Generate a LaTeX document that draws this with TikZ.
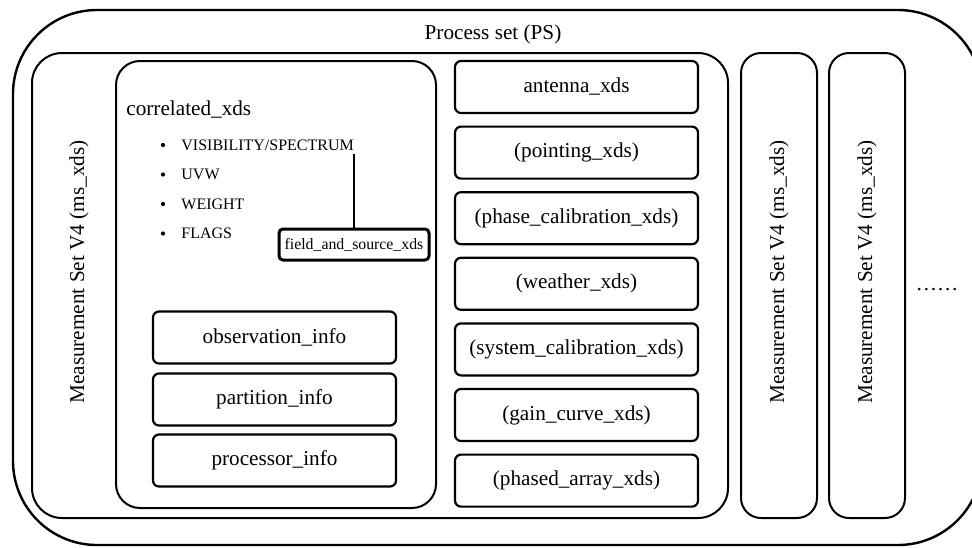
\documentclass[tikz,border=0pt]{standalone}
\usepackage{fontspec}
\setmainfont{Liberation Serif}
\begin{document}
\begin{tikzpicture}[x=0.5pt,y=-0.5pt,
  cont/.style={draw, line width=1pt, inner sep=0pt},
  xbox/.style={draw, line width=1.1pt, rounded corners=3pt, inner sep=0pt,
    minimum width=121.5pt, minimum height=26pt, font=\fontsize{10.6}{12}\selectfont},
  mslabel/.style={rotate=90, font=\fontsize{10.6}{12}\selectfont, inner sep=0pt},
  bigtext/.style={font=\fontsize{10.6}{12}\selectfont, inner sep=0pt},
  smalltext/.style={font=\fontsize{8}{9.6}\selectfont, inner sep=0pt, anchor=base west},
  bul/.style={fill=black}
]
\clip (0,0) rectangle (972,547);
% outer process set
\node[cont, line width=1.2pt, rounded corners=42pt, minimum width=484.5pt, minimum height=267.5pt] (ps) at (497.5,277.5) {};
\node[bigtext] (pslabel) at (493,34) {Process set (PS)};
% measurement sets
\node[cont, rounded corners=15pt, minimum width=348pt, minimum height=232.5pt] (ms1) at (380,285.5) {};
\node[mslabel] (ms1label) at (79,272) {Measurement Set V4 (ms\_xds)};
\node[cont, rounded corners=10pt, minimum width=38pt, minimum height=232.5pt] (ms2) at (779,285.5) {};
\node[mslabel] (ms2label) at (779,272) {Measurement Set V4 (ms\_xds)};
\node[cont, rounded corners=10pt, minimum width=38pt, minimum height=232.5pt] (ms3) at (867,285.5) {};
\node[mslabel] (ms3label) at (867,272) {Measurement Set V4 (ms\_xds)};
\node[bigtext, anchor=base] (dots) at (937,290) {……};
% correlated xds
\node[cont, rounded corners=12pt, minimum width=160pt, minimum height=223.5pt] (corr) at (276,284.5) {};
\node[bigtext, anchor=base west] (corrlabel) at (126,115) {correlated\_xds};
\node[smalltext] (vis) at (181,150) {VISIBILITY/SPECTRUM};
\node[smalltext] (uvw) at (181,179.5) {UVW};
\node[smalltext] (wgt) at (181,209) {WEIGHT};
\node[smalltext] (flg) at (181,238.5) {FLAGS};
\fill[bul] (163,145) circle (2.1);
\fill[bul] (163,174.5) circle (2.1);
\fill[bul] (163,204) circle (2.1);
\fill[bul] (163,233.5) circle (2.1);
\node[draw, line width=1.5pt, rounded corners=2pt, inner sep=0pt, minimum width=75pt, minimum height=15.5pt,
  font=\fontsize{7.9}{9}\selectfont] (fas) at (354,244.5) {field\_and\_source\_xds};
\coordinate (vtip) at (354,154);
\draw[line width=0.8pt] (fas.north) -- (vtip);
% info boxes
\node[xbox] (obs) at (274.5,337.5) {observation\_info};
\node[xbox] (part) at (274.5,399.5) {partition\_info};
\node[xbox] (proc) at (274.5,460.5) {processor\_info};
% xds boxes
\node[xbox] (ant) at (576.5,87) {antenna\_xds};
\node[xbox] (pnt) at (576.5,152.6) {(pointing\_xds)};
\node[xbox] (phc) at (576.5,218.2) {(phase\_calibration\_xds)};
\node[xbox] (wea) at (576.5,283.8) {(weather\_xds)};
\node[xbox] (syc) at (576.5,349.4) {(system\_calibration\_xds)};
\node[xbox] (gcv) at (576.5,415) {(gain\_curve\_xds)};
\node[xbox] (pha) at (576.5,480.6) {(phased\_array\_xds)};
\end{tikzpicture}
\end{document}
